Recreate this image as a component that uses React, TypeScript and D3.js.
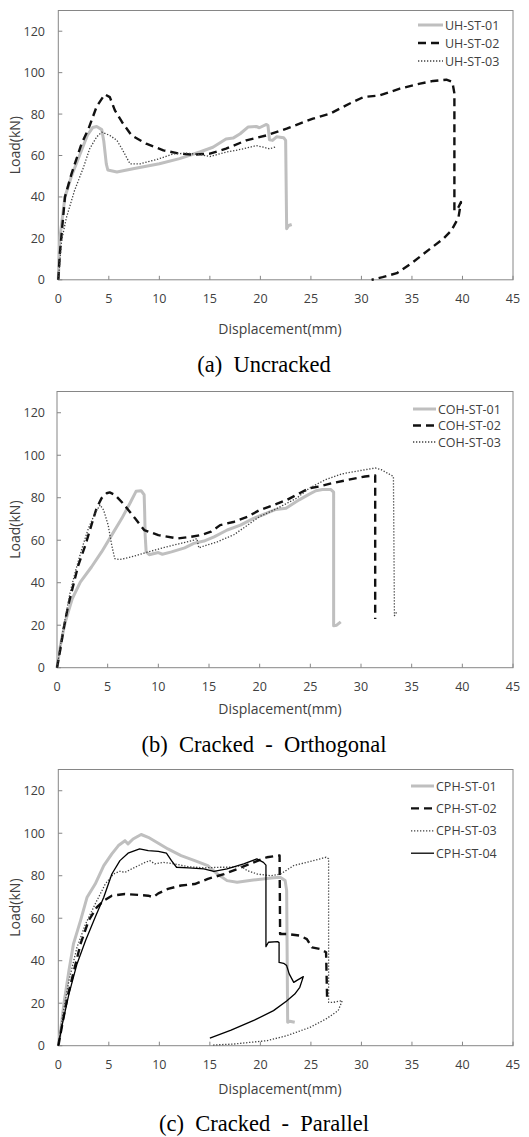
import React from "react";
import * as d3 from "d3";

type P = [number, number];

// ---------- data (displacement mm, load kN) ----------
const xTicks = [0, 5, 10, 15, 20, 25, 30, 35, 40, 45];
const yTicks = [0, 20, 40, 60, 80, 100, 120];

const uh01: P[] = [[0,0],[0.15,20],[0.66,40],[1.3,50],[2.1,60],[2.9,70],[3.4,73.5],[3.8,74],[4.3,72.5],[4.5,67],[4.75,56],[4.9,53],[5.8,52],[7.4,53.6],[10,56],[12,58.5],[14,61.7],[15.3,64],[16.6,68],[17.3,68.4],[18,70.5],[18.8,73.8],[19.6,74],[19.9,73.4],[20.6,75],[20.75,74.5],[20.9,67.6],[21.2,67.3],[21.6,69],[22.3,68.6],[22.5,67.3],[22.6,24.6],[22.8,26.2],[23.1,26.7]];
const uh02: P[] = [[0,0],[0.15,12.5],[0.66,40],[1.3,51],[2.3,65.7],[3,73],[3.8,83.7],[4.6,89.5],[5.1,88.2],[5.6,81.8],[6.3,76.2],[7.25,69.7],[8.7,65.7],[10.4,62.5],[12,60.9],[13.4,60.4],[15,60.9],[16.6,63.3],[18.6,67.3],[20.6,69.7],[22.6,73],[25.2,77.8],[26.9,80.2],[28.8,85],[30.2,88.2],[31.8,89],[33.8,92.3],[35.8,94.7],[37.1,96],[38.4,96.6],[39,95.5],[39.2,90],[39.2,33.5],[39.5,34],[39.85,37.5],[39.6,30],[38.9,23.8],[38.1,19.8],[36.8,15],[35.1,8.5],[33.5,3.2],[32.1,1.3],[31,0]];
const uh03: P[] = [[0,0],[0.33,19],[0.8,30],[1.6,43],[2.5,54.4],[3.1,63.2],[3.8,69],[4.3,71.3],[5.1,69.7],[5.8,67.3],[6.3,63.2],[7.1,56],[8.1,56],[9.7,58],[11.4,60.8],[12.7,61.1],[14,60.5],[15,59.5],[16.6,61.6],[18.3,63.2],[19.6,64.8],[20.3,64],[20.9,63.2],[21.6,64.3]];

const coh01: P[] = [[0,0],[0.33,10.3],[0.8,21.3],[1.5,32.4],[2.3,40.3],[3.4,47.4],[4.4,54.5],[5.4,62.4],[6.4,70.3],[7.2,77.4],[7.8,83],[8.3,83.3],[8.6,81.4],[8.65,73.5],[8.7,62.4],[8.8,54.5],[9.1,53.2],[10,54.2],[10.4,53.4],[11.3,54.5],[12.6,56.4],[13.5,58.5],[14.5,59.6],[15.5,61.6],[16.8,64.8],[18.1,67.1],[19.4,70.3],[20.7,72.7],[21.6,74.5],[22.6,75],[23.9,79],[24.9,81.7],[25.55,83.3],[26.2,83.9],[27,83.9],[27.3,82.6],[27.3,19.7],[27.6,20],[28,21.6]];
const coh02: P[] = [[0,0],[0.33,8.7],[0.65,18.2],[1.1,29.2],[1.6,38.7],[2.1,48.2],[2.8,57.7],[3.3,65.6],[3.9,75],[4.4,79.8],[4.9,82.1],[5.2,82.5],[5.7,81.4],[6.5,77.4],[7.7,70.3],[8.6,64.8],[10,62.4],[11.9,60.8],[13.2,61.6],[14.2,62.4],[15.2,64],[16.1,67.1],[17.5,68.7],[18.8,71],[20,74.2],[21.4,76.6],[22.7,79],[23.65,81.4],[24.9,84.5],[25.9,85.3],[27.2,86.9],[28.8,88.5],[30.4,90],[31.4,90.5],[31.4,22.9]];
const coh03: P[] = [[0,0],[0.33,10.3],[0.8,22.9],[1.3,35.5],[1.8,45],[2.45,56],[3.1,65.6],[3.75,72.7],[4.25,76.6],[4.6,74.2],[5.05,67.1],[5.4,57.7],[5.7,51.3],[6.2,50.9],[7.3,52.1],[9,54.5],[10.6,56.6],[12.2,58.5],[13.5,60],[13.8,60.8],[14,56.4],[14.5,57.3],[15.8,59.2],[17.5,62.7],[18.8,67.1],[20,71.1],[21.4,74.2],[22.7,77.4],[23.65,79.8],[24.9,84.5],[26.5,88.5],[28.1,91.2],[29.8,92.7],[31.4,94],[32,93.2],[33.2,90],[33.3,24.5],[33.5,26]];

const cph01: P[] = [[0,0],[0.23,7],[0.55,19.6],[1.05,35.3],[1.5,47.9],[2.2,58.9],[2.85,69.9],[3.65,76.1],[4.5,84.8],[5.3,90.3],[5.95,94.2],[6.6,96.5],[6.9,95],[7.4,97.3],[8.2,99.4],[8.9,98.1],[9.9,95.3],[10.85,92.6],[12.15,89.5],[13.5,87.1],[14.8,84.8],[15.75,80.8],[16.7,77.7],[17.7,76.9],[19.3,78],[21.3,79],[21.95,79.3],[22.45,77.7],[22.6,73],[22.7,11],[22.9,11.5],[23.4,11]];
const cph02: P[] = [[0,0],[0.4,10.2],[0.9,22.8],[1.55,35.3],[2.2,47.9],[3,58.9],[3.8,65.1],[4.5,68.3],[5.3,70.6],[6.6,71.4],[7.9,71],[8.9,70.6],[9.4,69.9],[9.9,71.7],[10.85,73.8],[12.15,75.4],[13.5,76.1],[14.8,78.5],[16.4,80.8],[18,83.7],[19.35,86.3],[20.65,88.7],[21.9,89.5],[21.95,52.6],[22.6,52.6],[23.9,51.8],[24.6,50.2],[25.1,46.3],[25.9,45.5],[26.5,44],[26.6,22.8]];
const cph03: P[] = [[0,0],[0.4,13.3],[1.05,30.6],[1.85,46.3],[2.7,57.3],[3.65,66.7],[4.65,76.1],[5.45,80.8],[6.1,82.1],[6.6,81.6],[7.6,84],[8.6,86.3],[9.05,87.1],[9.55,85.6],[10.35,86.3],[11.5,85.6],[12.8,84.3],[14.4,83.7],[16.1,84],[17.4,84],[18,84.8],[18.7,82.4],[19.7,80.8],[21,80],[22,80.8],[23.3,84.8],[24.9,86.7],[26.5,88.7],[26.75,88],[26.75,20.4],[27.2,20.4],[28.1,21.2],[27.7,16.5],[26.5,12.6],[24.9,8.6],[22.6,4.7],[20.7,2.4],[17.4,0.8],[15.25,0.3]];
const cph04: P[] = [[0,0],[0.4,10.2],[1.05,24.3],[1.85,38.5],[2.7,49.5],[3.65,60.4],[4.5,69.9],[5.3,80.8],[6.1,87.1],[6.9,90.6],[8.05,92.6],[8.9,91.8],[9.9,91.5],[10.7,90.6],[11.2,87.1],[11.7,84],[12.9,83.7],[14.4,83.2],[15.4,82.1],[16.7,83.2],[18.35,85.6],[19.65,87.9],[20.3,86.3],[20.55,85],[20.55,46.6],[20.8,48.7],[21.7,49],[21.85,48.5],[21.85,39.2],[22.3,38.8],[22.6,37.7],[22.85,33.8],[23.3,29.8],[23.7,31],[24.25,32.5],[23.9,27.5],[23.4,24.3],[22.6,21],[21.3,16.5],[19.4,12],[17.1,7.3],[15,3.6]];

const namesA = ["UH-ST-01", "UH-ST-02", "UH-ST-03"];
const namesB = ["COH-ST-01", "COH-ST-02", "COH-ST-03"];
const namesC = ["CPH-ST-01", "CPH-ST-02", "CPH-ST-03", "CPH-ST-04"];
const captions = ["(a)  Uncracked", "(b)  Cracked  -  Orthogonal", "(c)  Cracked  -  Parallel"];

// ---------- styles ----------
const styles = [
  { stroke: "#bfbfbf", width: 3, dash: "none" },
  { stroke: "#111", width: 2.4, dash: "8 5" },
  { stroke: "#404040", width: 1.3, dash: "1.3 1.7" },
  { stroke: "#000", width: 1.3, dash: "none" },
];

const FONT = "'Open Sans', 'Noto Sans', sans-serif";

type PanelCfg = {
  left: number; right: number; top: number; bottom: number;
  series: P[][]; names: string[];
  legX1: number; legX2: number; legY: number; legDy: number;
  caption: string; capY: number; titleY: number;
};

const panels: PanelCfg[] = [
  { left: 58.3, right: 513, top: 10.5, bottom: 279.8, series: [uh01, uh02, uh03], names: namesA,
    legX1: 418, legX2: 443, legY: 25, legDy: 18, caption: captions[0], capY: 371.5, titleY: 333.5 },
  { left: 57, right: 513, top: 391.5, bottom: 667.7, series: [coh01, coh02, coh03], names: namesB,
    legX1: 413, legX2: 436, legY: 409, legDy: 16.5, caption: captions[1], capY: 752, titleY: 713.5 },
  { left: 58.3, right: 513, top: 769.5, bottom: 1045.7, series: [cph01, cph02, cph03, cph04], names: namesC,
    legX1: 411, legX2: 434, legY: 786, legDy: 22.4, caption: captions[2], capY: 1131, titleY: 1093.5 },
];

function Panel({ cfg }: { cfg: PanelCfg }) {
  const x = d3.scaleLinear().domain([0, 45]).range([cfg.left, cfg.right]);
  const y = d3.scaleLinear().domain([0, 130]).range([cfg.bottom, cfg.top]);
  const line = d3.line<P>().x((p) => x(p[0])).y((p) => y(p[1]));
  const axisColor = "#868686";
  const textColor = "#404040";
  return (
    <g>
      <rect x={cfg.left} y={cfg.top} width={cfg.right - cfg.left} height={cfg.bottom - cfg.top}
        fill="none" stroke={axisColor} strokeWidth={1} />
      {xTicks.map((t) => (
        <g key={"x" + t}>
          <line x1={x(t)} x2={x(t)} y1={cfg.bottom} y2={cfg.bottom - 4} stroke={axisColor} />
          <text x={x(t)} y={cfg.bottom + 23.5} textAnchor="middle" fontSize={12.5} fill={textColor} fontFamily={FONT}>{t}</text>
        </g>
      ))}
      {yTicks.map((t) => (
        <g key={"y" + t}>
          <line x1={cfg.left} x2={cfg.left + 4} y1={y(t)} y2={y(t)} stroke={axisColor} />
          <text x={45} y={y(t) + 4.5} textAnchor="end" fontSize={12.5} fill={textColor} fontFamily={FONT}>{t}</text>
        </g>
      ))}
      <text x={280} y={cfg.titleY} textAnchor="middle" fontSize={14} fill={textColor} fontFamily={FONT}>Displacement(mm)</text>
      <text transform={`translate(20,${(cfg.top + cfg.bottom) / 2}) rotate(-90)`} textAnchor="middle" fontSize={14} fill={textColor} fontFamily={FONT}>Load(kN)</text>
      {cfg.series.map((s, i) => (
        <path key={"s" + i} d={line(s) || ""} fill="none" stroke={styles[i].stroke} strokeWidth={styles[i].width}
          strokeDasharray={styles[i].dash} strokeLinejoin="round" />
      ))}
      {cfg.names.map((n, i) => {
        const ly = cfg.legY + i * cfg.legDy;
        return (
          <g key={"l" + i}>
            <line x1={cfg.legX1} x2={cfg.legX2} y1={ly} y2={ly} stroke={styles[i].stroke} strokeWidth={styles[i].width}
              strokeDasharray={styles[i].dash} />
            <text x={cfg.legX2 + 2} y={ly + 4.5} fontSize={12.5} fill={textColor} fontFamily={FONT}>{n}</text>
          </g>
        );
      })}
      <text x={264} y={cfg.capY} textAnchor="middle" fontSize={22.5} fill="#000"
        fontFamily="'Liberation Serif', 'Times New Roman', serif" style={{ whiteSpace: "pre" }}>{cfg.caption}</text>
    </g>
  );
}

export default function App() {
  return (
    <svg width={529} height={1137} style={{ position: "absolute", left: 0, top: 0, background: "#fff" }}>
      <rect x={0} y={0} width={529} height={1137} fill="#fff" />
      {panels.map((p, i) => <Panel key={i} cfg={p} />)}
    </svg>
  );
}
